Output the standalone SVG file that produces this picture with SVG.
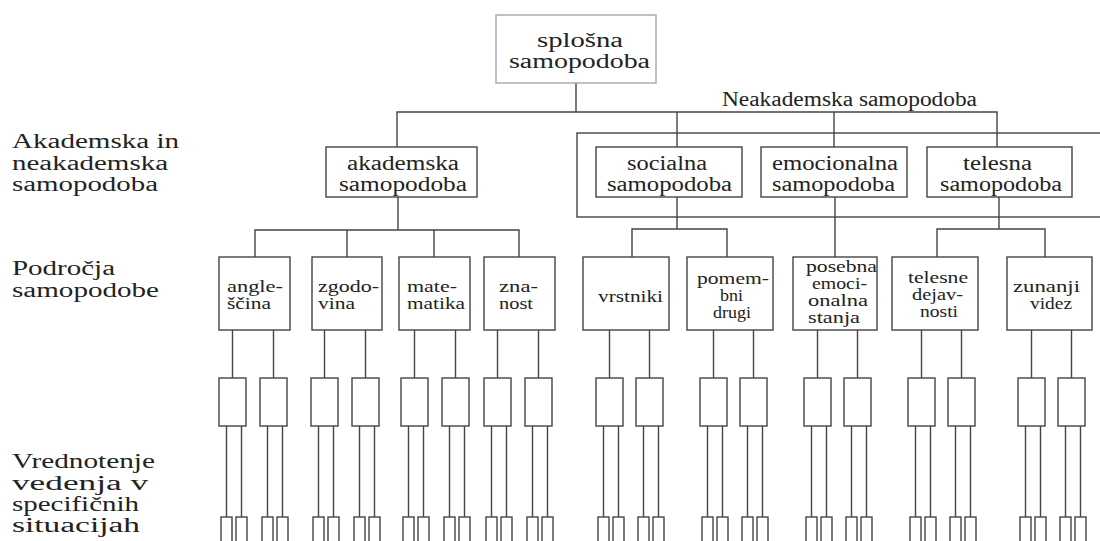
<svg xmlns="http://www.w3.org/2000/svg" xmlns:xlink="http://www.w3.org/1999/xlink" width="1100" height="541" viewBox="0 0 1100 541">
<style>
.b{fill:#fff;stroke:#444;stroke-width:1.4}
.t{fill:none;stroke:#a0a0a0;stroke-width:1.3}
.w{fill:none;stroke:#444;stroke-width:1.4}
text{font-family:"Liberation Serif","Times New Roman",Times,"DejaVu Serif",serif;font-size:20px;fill:#222}
.lg{font-size:20px}
.s{font-size:17px}
</style>
<defs>
<g id="leafBoxes">
<rect class="b" x="0" y="378" width="27" height="48"/>
<rect class="b" x="2" y="517" width="11" height="30"/>
<rect class="b" x="17" y="517" width="11" height="30"/>
</g>
<g id="leafWires">
<line class="w" x1="13.5" y1="330" x2="13.5" y2="378"/>
<line class="w" x1="7.5" y1="426" x2="7.5" y2="517"/>
<line class="w" x1="22.5" y1="426" x2="22.5" y2="517"/>
</g>
</defs>
<rect width="1100" height="541" fill="#fff"/>

<g id="labels">
<text x="12" y="148" textLength="167" lengthAdjust="spacingAndGlyphs">Akademska in</text>
<text x="12" y="170" textLength="156" lengthAdjust="spacingAndGlyphs">neakademska</text>
<text x="12" y="191" textLength="146" lengthAdjust="spacingAndGlyphs">samopodoba</text>
<text x="12" y="275" textLength="103" lengthAdjust="spacingAndGlyphs">Področja</text>
<text x="12" y="297" textLength="147" lengthAdjust="spacingAndGlyphs">samopodobe</text>
<text x="12" y="468" textLength="143" lengthAdjust="spacingAndGlyphs">Vrednotenje</text>
<text x="12" y="490" textLength="136" lengthAdjust="spacingAndGlyphs">vedenja v</text>
<text x="12" y="511" textLength="127" lengthAdjust="spacingAndGlyphs">specifičnih</text>
<text x="12" y="532" textLength="128" lengthAdjust="spacingAndGlyphs">situacijah</text>
</g>

<g id="connectors">
<polyline class="w" points="576,83 576,112"/>
<polyline class="w" points="397,147 397,112 997,112 997,147"/>
<line class="w" x1="677" y1="112" x2="677" y2="147"/>
<line class="w" x1="834" y1="112" x2="834" y2="147"/>
<line class="w" x1="398" y1="197" x2="398" y2="230"/>
<polyline class="w" points="255,257 255,230 519,230 519,257"/>
<line class="w" x1="347" y1="230" x2="347" y2="257"/>
<line class="w" x1="434" y1="230" x2="434" y2="257"/>
<line class="w" x1="677" y1="197" x2="677" y2="229"/>
<polyline class="w" points="632,257 632,229 727,229 727,257"/>
<line class="w" x1="835" y1="197" x2="835" y2="257"/>
<line class="w" x1="999" y1="197" x2="999" y2="229"/>
<polyline class="w" points="937,257 937,229 1045,229 1045,257"/>
<use xlink:href="#leafWires" x="219"/>
<use xlink:href="#leafWires" x="260"/>
<use xlink:href="#leafWires" x="311"/>
<use xlink:href="#leafWires" x="352"/>
<use xlink:href="#leafWires" x="401"/>
<use xlink:href="#leafWires" x="442"/>
<use xlink:href="#leafWires" x="484"/>
<use xlink:href="#leafWires" x="525"/>
<use xlink:href="#leafWires" x="596"/>
<use xlink:href="#leafWires" x="636"/>
<use xlink:href="#leafWires" x="700"/>
<use xlink:href="#leafWires" x="740"/>
<use xlink:href="#leafWires" x="804"/>
<use xlink:href="#leafWires" x="844"/>
<use xlink:href="#leafWires" x="908"/>
<use xlink:href="#leafWires" x="948"/>
<use xlink:href="#leafWires" x="1018"/>
<use xlink:href="#leafWires" x="1058"/>
</g>

<g id="neakademska-frame">
<rect class="w" x="577" y="133" width="540" height="84"/>
<text x="722" y="106" textLength="255" lengthAdjust="spacingAndGlyphs">Neakademska samopodoba</text>
</g>

<g id="splosna">
<rect class="t" x="496" y="15" width="160" height="68" fill="#fff"/>
<text class="lg" x="537" y="47" textLength="86" lengthAdjust="spacingAndGlyphs">splošna</text>
<text class="lg" x="509" y="68" textLength="141" lengthAdjust="spacingAndGlyphs">samopodoba</text>
</g>

<g id="akademska">
<rect class="b" x="326" y="147" width="151" height="50"/>
<text x="347" y="170" textLength="112" lengthAdjust="spacingAndGlyphs">akademska</text>
<text x="339" y="191" textLength="128" lengthAdjust="spacingAndGlyphs">samopodoba</text>
</g>
<g id="socialna">
<rect class="b" x="596" y="147" width="146" height="50"/>
<text x="627" y="170" textLength="80" lengthAdjust="spacingAndGlyphs">socialna</text>
<text x="607" y="191" textLength="125" lengthAdjust="spacingAndGlyphs">samopodoba</text>
</g>
<g id="emocionalna">
<rect class="b" x="761" y="147" width="146" height="50"/>
<text x="772" y="170" textLength="126" lengthAdjust="spacingAndGlyphs">emocionalna</text>
<text x="772" y="191" textLength="123" lengthAdjust="spacingAndGlyphs">samopodoba</text>
</g>
<g id="telesna">
<rect class="b" x="927" y="147" width="145" height="50"/>
<text x="963" y="170" textLength="69" lengthAdjust="spacingAndGlyphs">telesna</text>
<text x="940" y="191" textLength="122" lengthAdjust="spacingAndGlyphs">samopodoba</text>
</g>

<g id="anglescina">
<rect class="b" x="219" y="257" width="71" height="73"/>
<text class="s" x="227" y="292" textLength="56" lengthAdjust="spacingAndGlyphs">angle-</text>
<text class="s" x="227" y="309" textLength="44" lengthAdjust="spacingAndGlyphs">ščina</text>
</g>
<g id="zgodovina">
<rect class="b" x="312" y="257" width="70" height="73"/>
<text class="s" x="318" y="292" textLength="61" lengthAdjust="spacingAndGlyphs">zgodo-</text>
<text class="s" x="318" y="309" textLength="37" lengthAdjust="spacingAndGlyphs">vina</text>
</g>
<g id="matematika">
<rect class="b" x="399" y="257" width="71" height="73"/>
<text class="s" x="407" y="292" textLength="50" lengthAdjust="spacingAndGlyphs">mate-</text>
<text class="s" x="407" y="309" textLength="58" lengthAdjust="spacingAndGlyphs">matika</text>
</g>
<g id="znanost">
<rect class="b" x="484" y="257" width="71" height="73"/>
<text class="s" x="499" y="292" textLength="39" lengthAdjust="spacingAndGlyphs">zna-</text>
<text class="s" x="499" y="309" textLength="34" lengthAdjust="spacingAndGlyphs">nost</text>
</g>
<g id="vrstniki">
<rect class="b" x="583" y="257" width="86" height="73"/>
<text class="s" x="598" y="302" textLength="65" lengthAdjust="spacingAndGlyphs">vrstniki</text>
</g>
<g id="pomembni">
<rect class="b" x="687" y="257" width="86" height="73"/>
<text class="s" x="697" y="284" textLength="72" lengthAdjust="spacingAndGlyphs">pomem-</text>
<text class="s" x="720" y="301" textLength="23" lengthAdjust="spacingAndGlyphs">bni</text>
<text class="s" x="713" y="318" textLength="38" lengthAdjust="spacingAndGlyphs">drugi</text>
</g>
<g id="posebna">
<rect class="b" x="793" y="257" width="84" height="73"/>
<text class="s" x="806" y="272" textLength="71" lengthAdjust="spacingAndGlyphs">posebna</text>
<text class="s" x="812" y="289" textLength="55" lengthAdjust="spacingAndGlyphs">emoci-</text>
<text class="s" x="808" y="306" textLength="60" lengthAdjust="spacingAndGlyphs">onalna</text>
<text class="s" x="808" y="323" textLength="52" lengthAdjust="spacingAndGlyphs">stanja</text>
</g>
<g id="telesne">
<rect class="b" x="892" y="257" width="86" height="73"/>
<text class="s" x="908" y="283" textLength="60" lengthAdjust="spacingAndGlyphs">telesne</text>
<text class="s" x="912" y="300" textLength="51" lengthAdjust="spacingAndGlyphs">dejav-</text>
<text class="s" x="920" y="317" textLength="38" lengthAdjust="spacingAndGlyphs">nosti</text>
</g>
<g id="zunanji">
<rect class="b" x="1007" y="257" width="85" height="73"/>
<text class="s" x="1013" y="292" textLength="67" lengthAdjust="spacingAndGlyphs">zunanji</text>
<text class="s" x="1030" y="309" textLength="42" lengthAdjust="spacingAndGlyphs">videz</text>
</g>

<g id="situations">
<use xlink:href="#leafBoxes" x="219"/>
<use xlink:href="#leafBoxes" x="260"/>
<use xlink:href="#leafBoxes" x="311"/>
<use xlink:href="#leafBoxes" x="352"/>
<use xlink:href="#leafBoxes" x="401"/>
<use xlink:href="#leafBoxes" x="442"/>
<use xlink:href="#leafBoxes" x="484"/>
<use xlink:href="#leafBoxes" x="525"/>
<use xlink:href="#leafBoxes" x="596"/>
<use xlink:href="#leafBoxes" x="636"/>
<use xlink:href="#leafBoxes" x="700"/>
<use xlink:href="#leafBoxes" x="740"/>
<use xlink:href="#leafBoxes" x="804"/>
<use xlink:href="#leafBoxes" x="844"/>
<use xlink:href="#leafBoxes" x="908"/>
<use xlink:href="#leafBoxes" x="948"/>
<use xlink:href="#leafBoxes" x="1018"/>
<use xlink:href="#leafBoxes" x="1058"/>
</g>
</svg>
